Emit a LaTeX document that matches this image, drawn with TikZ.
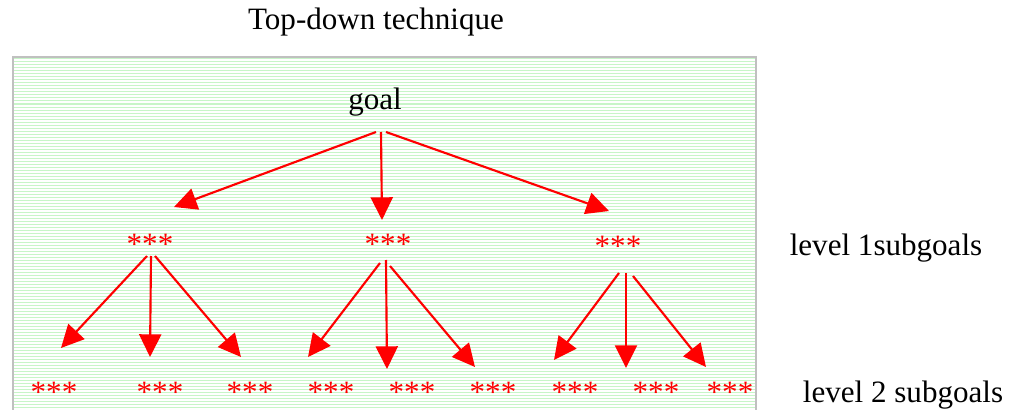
\documentclass[tikz,border=0pt]{standalone}
\usepackage{fontspec}
\setmainfont{Liberation Serif}
\usetikzlibrary{arrows.meta}
\definecolor{stripe}{RGB}{200,245,200}
\definecolor{frame}{RGB}{192,192,192}
\definecolor{arrowred}{RGB}{255,0,0}
\begin{document}
\begin{tikzpicture}[x=0.75pt,y=-0.75pt,
  txt/.style={anchor=base,inner sep=0pt,font=\fontsize{23.3}{28}\selectfont},
  stars/.style={txt,text=arrowred},
  link/.style={draw=arrowred,line width=1.6pt,-{Triangle[length=17pt,width=16.5pt]}}]
\useasboundingbox (0,0) rectangle (1010,410);
\clip (0,0) rectangle (1010,410);

% striped panel
\foreach \y in {59,62,...,410}
  \draw[stripe,line width=0.75pt] (14,\y) -- (755,\y);
\draw[frame,line width=1.5pt] (13,57) rectangle (756,440);

% labels
\node[txt] (title) at (376,30) {Top-down technique};
\node[txt] (goal) at (375,109) {goal};
\node[txt] (lvl1) at (886,255) {level 1subgoals};
\node[txt] (lvl2) at (903,402) {level 2 subgoals};

% level 1 subgoals
\node[stars] (a) at (150,254) {***};
\node[stars] (b) at (388,254) {***};
\node[stars] (c) at (618,256) {***};

% level 2 subgoals
\node[stars] (a1) at (54,402) {***};
\node[stars] (a2) at (160,402) {***};
\node[stars] (a3) at (250,402) {***};
\node[stars] (b1) at (331,402) {***};
\node[stars] (b2) at (412,402) {***};
\node[stars] (b3) at (493,402) {***};
\node[stars] (c1) at (575,402) {***};
\node[stars] (c2) at (656,402) {***};
\node[stars] (c3) at (730,402) {***};

% connector ends
\coordinate (g-l) at (376,132);
\coordinate (g-m) at (381,132);
\coordinate (g-r) at (386,132);
\coordinate (to-a) at (174,207);
\coordinate (to-b) at (382,220);
\coordinate (to-c) at (609,211);

\coordinate (a-l) at (147,256);
\coordinate (a-m) at (151,256);
\coordinate (a-r) at (155,256);
\coordinate (to-a1) at (61,348);
\coordinate (to-a2) at (150,357);
\coordinate (to-a3) at (241,357);

\coordinate (b-l) at (380,263);
\coordinate (b-m) at (386,260);
\coordinate (b-r) at (390,266);
\coordinate (to-b1) at (308,357);
\coordinate (to-b2) at (387,369);
\coordinate (to-b3) at (475,367);

\coordinate (c-l) at (619,273);
\coordinate (c-m) at (626,273);
\coordinate (c-r) at (633,276);
\coordinate (to-c1) at (554,360);
\coordinate (to-c2) at (626,368);
\coordinate (to-c3) at (706,367);

% arrows
\draw[link] (g-l) -- (to-a);
\draw[link] (g-m) -- (to-b);
\draw[link] (g-r) -- (to-c);
\draw[link] (a-l) -- (to-a1);
\draw[link] (a-m) -- (to-a2);
\draw[link] (a-r) -- (to-a3);
\draw[link] (b-l) -- (to-b1);
\draw[link] (b-m) -- (to-b2);
\draw[link] (b-r) -- (to-b3);
\draw[link] (c-l) -- (to-c1);
\draw[link] (c-m) -- (to-c2);
\draw[link] (c-r) -- (to-c3);
\end{tikzpicture}
\end{document}
